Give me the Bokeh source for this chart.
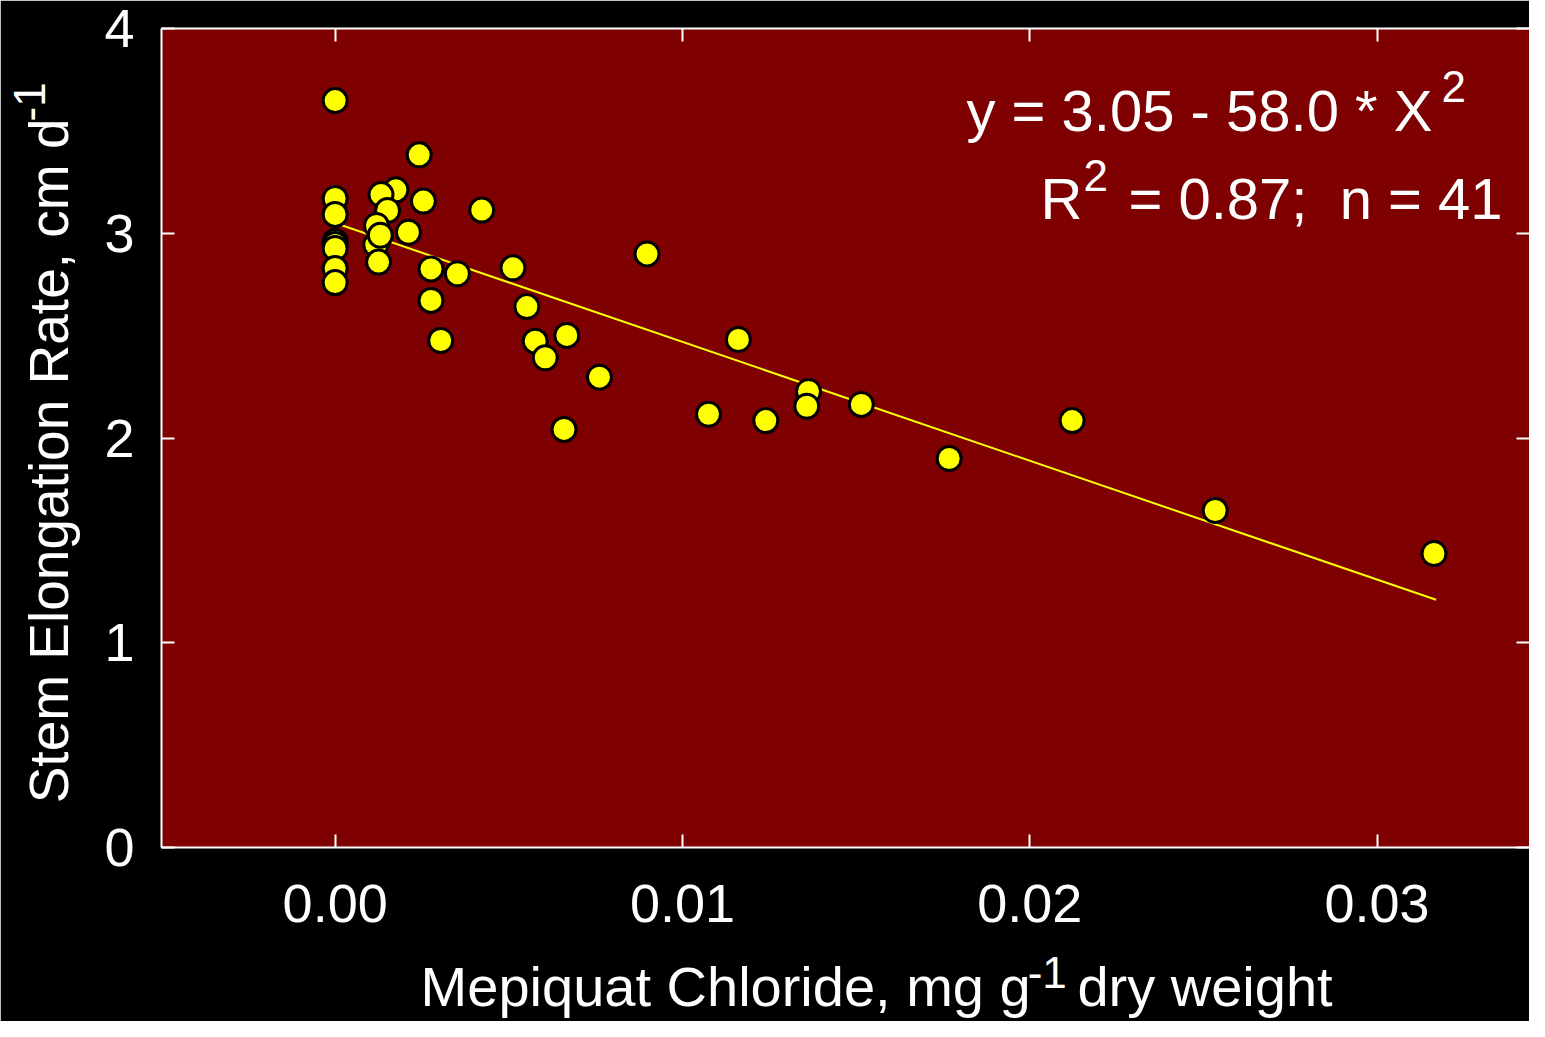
import math
from bokeh.plotting import figure
from bokeh.models import Range1d, LinearAxis, Label, FixedTicker, CustomJSTickFormatter
from bokeh.embed import file_html
from bokeh.resources import INLINE

# ---- data ----
mc = [0.0, 0.0, 0.0, 0.0, 0.0, 0.0, 0.0, 0.0,
      0.00175, 0.00132, 0.00151, 0.00242, 0.00254, 0.00119, 0.00211, 0.00117,
      0.00125, 0.00422, 0.00276, 0.00352, 0.00276, 0.00304, 0.00512, 0.00552,
      0.00576, 0.00605, 0.00667, 0.00761, 0.00898, 0.00659, 0.01161, 0.01075,
      0.01240, 0.01363, 0.01358, 0.01515, 0.01768, 0.02122, 0.02534, 0.03164,
      0.00130]
ser = [3.648, 3.170, 3.092, 2.960, 2.945, 2.926, 2.828, 2.759,
       3.212, 3.189, 3.111, 3.383, 3.157, 3.038, 3.005, 2.944,
       2.859, 3.113, 2.826, 2.802, 2.672, 2.476, 2.831, 2.642,
       2.473, 2.392, 2.501, 2.297, 2.899, 2.042, 2.481, 2.116,
       2.085, 2.227, 2.155, 2.164, 1.900, 2.085, 1.646, 1.436,
       2.990]
fit_x = [0.0, 0.0317]
fit_y = [3.05, 1.21]
x_ticks = [0.0, 0.01, 0.02, 0.03]
y_ticks = [0, 1, 2, 3, 4]
x_title_a = "Mepiquat Chloride, mg g"
x_title_b = "dry weight"
y_title = "Stem Elongation Rate, cm d"
sup_unit = "-1"

NB = "\u00a0"
FONT = "Liberation Sans"
W, H = 1529, 1021
X0, X1 = -0.005, 0.03439
Y0, Y1 = 0.0, 4.0
FL, FT, FB = 161, 28, 847          # frame left / top / bottom in pixels
PXX = (W - FL) / (X1 - X0)         # pixels per x unit
PXY = (FB - FT) / (Y1 - Y0)        # pixels per y unit

p = figure(width=W, height=H, output_backend="svg", toolbar_location=None,
           x_range=Range1d(X0, X1), y_range=Range1d(Y0, Y1),
           x_axis_location=None, y_axis_location=None,
           min_border_left=FL, min_border_right=0, min_border_top=FT,
           min_border_bottom=H - FB)
p.background_fill_color = "#7f0000"
p.border_fill_color = "black"
p.outline_line_color = None
p.grid.visible = False


def style_axis(ax, labels=True):
    ax.axis_line_color = "white"
    ax.axis_line_width = 2
    ax.major_tick_line_color = "white"
    ax.major_tick_line_width = 2
    ax.major_tick_in = 13
    ax.major_tick_out = 0
    ax.minor_tick_line_color = None
    ax.major_label_text_color = "white"
    ax.major_label_text_font = FONT
    if labels:
        ax.major_label_text_font_size = "54px"
    else:
        ax.major_label_overrides = {t: "" for t in ax.ticker.ticks}
        ax.major_label_text_font_size = "1px"
        ax.major_label_standoff = 0


def title_axis(text, size, standoff):
    """An axis with no line and no ticks that only carries a title."""
    ax = LinearAxis(ticker=FixedTicker(ticks=[]), axis_label=text)
    ax.axis_line_color = None
    ax.major_tick_line_color = None
    ax.minor_tick_line_color = None
    ax.major_tick_in = 0
    ax.major_tick_out = 0
    ax.minor_tick_in = 0
    ax.minor_tick_out = 0
    ax.major_label_standoff = 0
    ax.axis_label_text_color = "white"
    ax.axis_label_text_font = FONT
    ax.axis_label_text_font_style = "normal"
    ax.axis_label_text_font_size = f"{size}px"
    ax.axis_label_standoff = standoff
    return ax


bottom = LinearAxis(ticker=FixedTicker(ticks=x_ticks),
                    formatter=CustomJSTickFormatter(code="return tick.toFixed(2);"))
style_axis(bottom)
bottom.major_label_standoff = 37
p.add_layout(bottom, "below")
# x title: main words, then the raised unit exponent
p.add_layout(title_axis(NB * 4 + x_title_a + NB * 3 + x_title_b, 56, 30), "below")
p.add_layout(title_axis(NB * 33 + sup_unit, 44, -73), "below")

left = LinearAxis(ticker=FixedTicker(ticks=y_ticks))
style_axis(left)
left.major_label_standoff = 27
p.add_layout(left, "left")
p.add_layout(title_axis(y_title + NB * 3, 55, 22), "left")
p.add_layout(title_axis(NB * 55 + sup_unit, 44, -39), "left")

top = LinearAxis(ticker=FixedTicker(ticks=x_ticks))
style_axis(top, labels=False)
p.add_layout(top, "above")

right = LinearAxis(ticker=FixedTicker(ticks=y_ticks))
style_axis(right, labels=False)
right.axis_line_color = None
p.add_layout(right, "right")

p.line(fit_x, fit_y, line_color="#ffff00", line_width=2)
p.scatter(mc, ser, size=24, fill_color="#ffff00", line_color="black", line_width=3)


def lab(text, px, py, size):
    """Place a text with its baseline start at pixel (px, py)."""
    py -= 0.39 * size
    x = X0 + (px - FL) / PXX
    y = Y0 + (FB - py) / PXY
    p.add_layout(Label(x=x, y=y, text=text, text_color="white",
                       text_font=FONT, text_font_size=f"{size}px",
                       text_align="left", text_baseline="alphabetic"))


# regression equation
lab("y = 3.05 - 58.0 * X", 966, 133, 58)
lab("2", 1441, 103, 44)
lab("R", 1040, 221, 58)
lab("2", 1083, 192, 44)
lab("= 0.87;" + NB + " n = 41", 1128, 221, 58)

open("out.html", "w").write(file_html(p, INLINE))
